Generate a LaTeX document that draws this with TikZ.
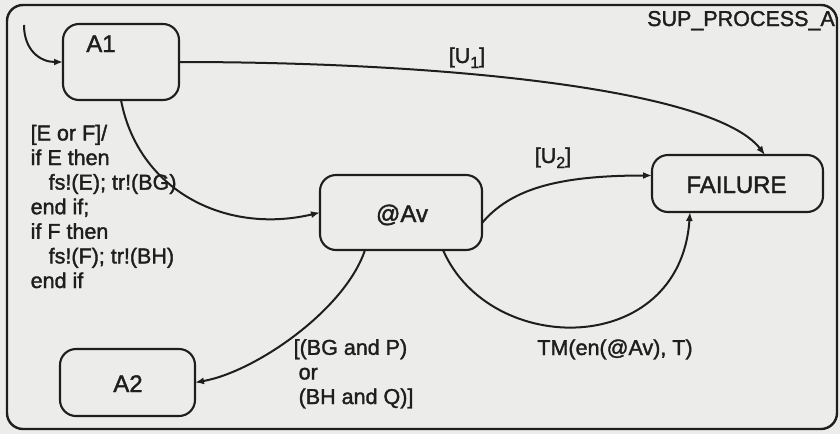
\documentclass[tikz,border=0pt]{standalone}
\usepackage{fontspec}
\setmainfont{Liberation Sans}[FakeBold=1.6]
\usetikzlibrary{arrows.meta}
\definecolor{paper}{RGB}{236,236,235}
\definecolor{ink}{RGB}{30,30,30}
% lowered index digit, as in U1 / U2
\newcommand\lowidx[1]{\raisebox{-5pt}{\fontsize{16}{16}\selectfont #1}}

\begin{document}
\begin{tikzpicture}[x=1pt,y=-1pt,
  state/.style={draw=ink, line width=2.1pt, rounded corners=16pt,
                inner sep=0pt, outer sep=0pt},
  superstate/.style={draw=ink, line width=2.4pt, rounded corners=16pt,
                inner sep=0pt, outer sep=0pt},
  lbl/.style={text=ink, font=\fontsize{21.5}{24.6}\selectfont, inner sep=0pt},
  statename/.style={text=ink, font=\fontsize{24}{28}\selectfont, inner sep=0pt},
  trans/.style={draw=ink, line width=2pt, -{Latex[length=9pt,width=7pt]}},
]
% paper and page frame
\fill[paper] (0,0) rectangle (840,434);
\useasboundingbox (0,0) rectangle (840,434);

% enclosing superstate
\node[superstate, minimum width=830pt, minimum height=424pt] (sup) at (422,217) {};
\node[lbl, anchor=base east] (supname) at (835,26) {SUP\_PROCESS\_A};

% states
\node[state, minimum width=116pt, minimum height=76pt] (A1) at (121,62) {};
\node[statename, anchor=base] (A1name) at (101,52) {A1};

\node[state, minimum width=162pt, minimum height=75pt] (Av) at (401,212.5) {};
\node[statename, anchor=base] (Avname) at (402,222) {@Av};

\node[state, minimum width=171pt, minimum height=57pt] (F) at (737.5,183.5) {};
\node[statename, anchor=base] (Fname) at (736.5,193) {FAILURE};

\node[state, minimum width=135pt, minimum height=67pt] (A2) at (127.5,382.5) {};
\node[statename, anchor=base] (A2name) at (128,392) {A2};

% default entry
\coordinate (init) at (24,25);
\draw[trans] (init) .. controls +(0,25) and +(-23,0) .. (A1.west);

% transitions
\draw[trans] (A1.south) .. controls +(17,90) and +(-95,22.5) .. (Av.west);
\draw[trans] (A1.east) .. controls +(271,0) and +(-50,-65) .. ([xshift=27.5pt]F.north);
\draw[trans] ([yshift=-10.5pt]Av.east) .. controls +(28,-33) and +(-97,0) .. ([yshift=8pt]F.west);
\draw[trans] ([xshift=42pt]Av.south) .. controls +(47,108) and +(-10,146) .. ([xshift=-47.5pt]F.south);
\draw[trans] ([xshift=-36pt]Av.south) .. controls +(-20,60) and +(60,-10.5) .. (A2.east);

% transition labels (base anchor = baseline of the last line)
\node[lbl, anchor=base west, align=left] (act) at (30.5,288)
  {[E or F]/\\
   if E then\\
   \hspace*{18pt}fs!(E); tr!(BG)\\
   end if;\\
   if F then\\
   \hspace*{18pt}fs!(F); tr!(BH)\\
   end if};
\node[lbl, anchor=base] (u1) at (467,63) {[U\lowidx{1}]};
\node[lbl, anchor=base] (u2) at (553,163) {[U\lowidx{2}]};
\node[lbl, anchor=base] (tm) at (615,355) {TM(en(@Av), T)};
\node[lbl, anchor=base west, align=left] (guard) at (293.5,404)
  {[(BG and P)\\
   \hspace*{5pt}or\\
   \hspace*{5pt}(BH and Q)]};
\end{tikzpicture}
\end{document}
